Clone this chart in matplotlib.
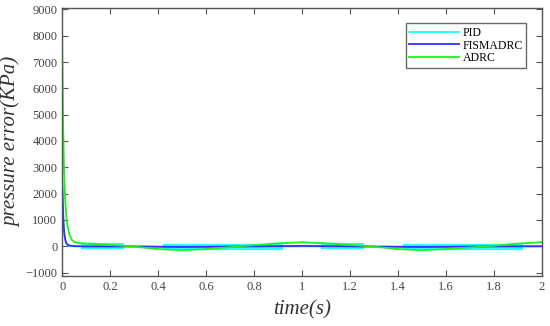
import numpy as np
import matplotlib
matplotlib.use("Agg")
import matplotlib.pyplot as plt

# values
t_adrc = [0, 0.004, 0.008, 0.012, 0.016, 0.02, 0.03, 0.04, 0.05, 0.07, 0.1, 0.2, 0.28,
          0.4, 0.5, 0.6, 0.75, 0.9, 1.0, 1.1, 1.28, 1.4, 1.5, 1.6, 1.78, 1.9, 2.0]
adrc = [8000, 4600, 2900, 1900, 1300, 900, 450, 250, 160, 120, 100, 50, 0,
        -110, -150, -110, 0, 110, 150, 110, 0, -110, -150, -110, 0, 100, 150]

t_fis = [0, 0.003, 0.006, 0.01, 0.015, 0.02, 0.03, 0.05, 0.1, 0.3, 0.5, 0.75, 1.0, 1.25, 1.5, 1.75, 2.0]
fismadrc = [2300, 1500, 800, 400, 170, 70, 20, 0, -10, -10, -30, -10, 10, -10, -30, -10, 0]

t_pid = [0, 0.003, 0.006, 0.01, 0.015, 0.02, 0.03, 0.05, 0.08, 0.3, 0.6, 1.0, 1.3, 1.6, 2.0]
pid = [3400, 1800, 900, 400, 180, 80, 30, 10, 0, -10, -20, -10, -10, -20, -10]

# thick oscillating stretches of the PID curve
band_start = [0.08, 0.42, 1.08, 1.42]
band_end = [0.26, 0.92, 1.26, 1.92]
band_level = [20, -20, -10, -20]

plt.rcParams["font.family"] = ["Liberation Serif", "DejaVu Serif"]

fig, ax = plt.subplots(figsize=(5.5, 3.26), dpi=100)
fig.subplots_adjust(left=0.113, right=0.985, top=0.975, bottom=0.152)

ax.plot(t_pid, pid, color="cyan", lw=1.2, label="PID")
ax.hlines(band_level, band_start, band_end, color="cyan", lw=4.5, alpha=0.85)
ax.plot(t_fis, fismadrc, color="#3030ff", lw=1.3, label="FISMADRC")
ax.plot(t_adrc, adrc, color="#22ee22", lw=1.3, label="ADRC")

ax.set_xlim(0, 2)
ax.set_ylim(-1150, 9050)
ax.set_xticks(np.arange(0, 2.01, 0.2))
ax.set_xticklabels(["0", "0.2", "0.4", "0.6", "0.8", "1", "1.2", "1.4", "1.6", "1.8", "2"])
ax.set_yticks(np.arange(-1000, 9001, 1000))
ax.set_yticklabels(["\u22121000"] + [str(v) for v in range(0, 9001, 1000)])

grey = "#555555"
for s in ax.spines.values():
    s.set_color(grey)
    s.set_linewidth(1.0)
ax.tick_params(direction="in", top=True, right=True, length=4, color=grey,
               labelcolor="#444444", labelsize=9)

ax.set_xlabel("time(s)", fontsize=15, style="italic", color="#333333", labelpad=5)
ax.set_ylabel("pressure error(KPa)", fontsize=15, style="italic", color="#333333", labelpad=3)

leg = ax.legend(loc="upper right", fontsize=8.5, frameon=True, fancybox=False,
                handlelength=4.2, handletextpad=0.3, borderpad=0.3, labelspacing=0.05,
                bbox_to_anchor=(0.98, 0.965))
leg.get_frame().set_edgecolor("#444444")
leg.get_frame().set_linewidth(1.0)

fig.savefig("out.png", dpi=100)
